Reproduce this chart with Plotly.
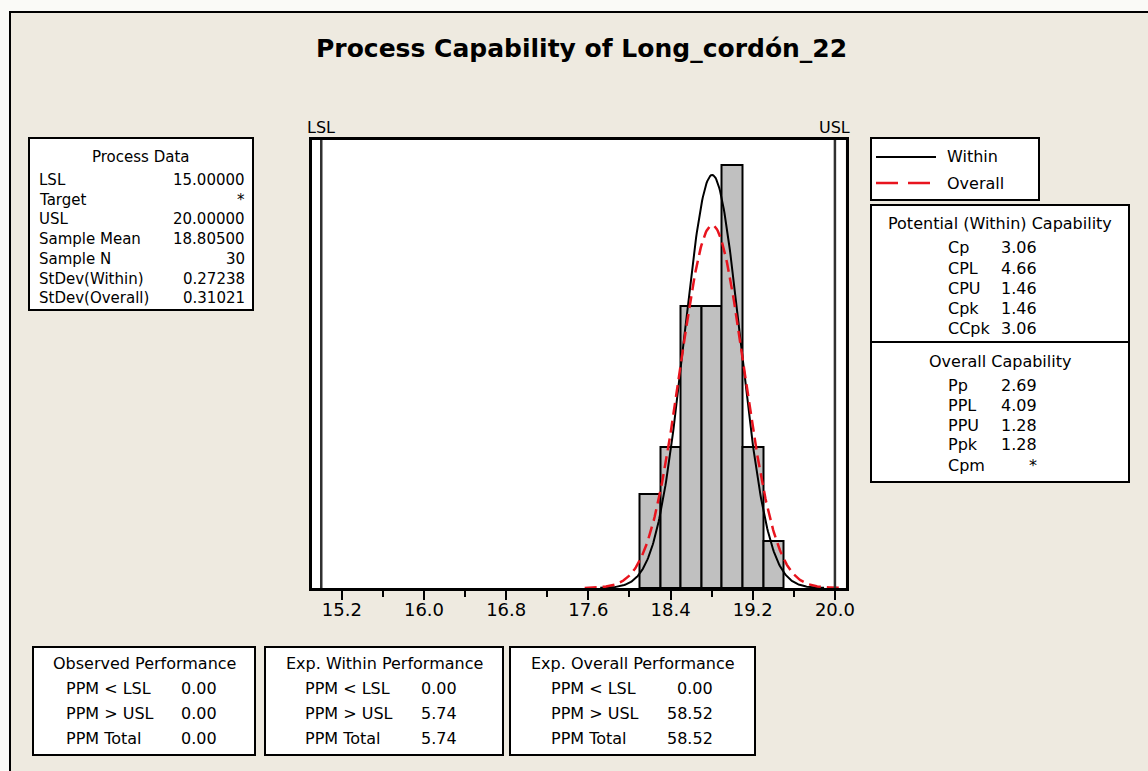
import numpy as np
import plotly.graph_objects as go

# ---------------- data ----------------
bin_centers = [18.2, 18.4, 18.6, 18.8, 19.0, 19.2, 19.4]
counts = [2, 3, 6, 6, 9, 3, 1]
bin_width = 0.2
LSL = 15.0
USL = 20.0
sample_mean = 18.805
sample_n = 30
sd_within = 0.27238
sd_overall = 0.31021

process_labels = ["LSL", "Target", "USL", "Sample Mean", "Sample N", "StDev(Within)", "StDev(Overall)"]
process_values = ["15.00000", "*", "20.00000", "18.80500", "30", "0.27238", "0.31021"]

within_labels = ["Cp", "CPL", "CPU", "Cpk", "CCpk"]
within_values = ["3.06", "4.66", "1.46", "1.46", "3.06"]
overall_labels = ["Pp", "PPL", "PPU", "Ppk", "Cpm"]
overall_values = ["2.69", "4.09", "1.28", "1.28", "*"]

perf_titles = ["Observed Performance", "Exp. Within Performance", "Exp. Overall Performance"]
perf_labels = ["PPM < LSL", "PPM > USL", "PPM Total"]
perf_values = [["0.00", "0.00", "0.00"], ["0.00", "5.74", "5.74"], ["0.00", "58.52", "58.52"]]

# ---------------- layout helpers ----------------
W, H = 1148, 771
BG = "#EEEAE0"
FONT = "DejaVu Sans"
RED = "#E8141E"


def px(x):
    return x / W


def py(y):
    return 1 - y / H


PLOT_L, PLOT_R, PLOT_T, PLOT_B = 311.5, 845.5, 140, 588
X_RANGE = [14.905, 20.103]
Y_RANGE = [0, 9.53]

fig = go.Figure()

# histogram bars
fig.add_trace(go.Bar(
    x=bin_centers, y=counts, width=bin_width,
    marker=dict(color="#C0C0C0", line=dict(color="black", width=2)),
    showlegend=False, hoverinfo="skip"))


def normal_curve(mu, sd):
    xs = np.linspace(mu - 4 * sd, mu + 4 * sd, 300)
    ys = sample_n * bin_width * np.exp(-0.5 * ((xs - mu) / sd) ** 2) / (sd * np.sqrt(2 * np.pi))
    return xs, ys


xw, yw = normal_curve(sample_mean, sd_within)
xo, yo = normal_curve(sample_mean, sd_overall)
fig.add_trace(go.Scatter(x=xw, y=yw, mode="lines", line=dict(color="black", width=2),
                         showlegend=False, hoverinfo="skip"))
fig.add_trace(go.Scatter(x=xo, y=yo, mode="lines",
                         line=dict(color=RED, width=2.5, dash="12px,6px"),
                         showlegend=False, hoverinfo="skip"))

shapes = []
annotations = []

# LSL / USL lines
for v, name in [(LSL, "LSL"), (USL, "USL")]:
    shapes.append(dict(type="line", xref="x", yref="paper", x0=v, x1=v,
                       y0=py(PLOT_B), y1=py(PLOT_T), line=dict(color="#303030", width=2.5)))
    annotations.append(dict(xref="x", yref="paper", x=v, y=py(128), text=name,
                            showarrow=False, xanchor="center", yanchor="middle",
                            font=dict(family=FONT, size=16, color="black")))

# outer window border (left & top)
shapes.append(dict(type="rect", xref="paper", yref="paper", x0=0, x1=1, y0=py(11), y1=1,
                   fillcolor="#FAFAF7", line=dict(width=0), layer="below"))
shapes.append(dict(type="rect", xref="paper", yref="paper", x0=0, x1=px(9), y0=0, y1=1,
                   fillcolor="#FAFAF7", line=dict(width=0), layer="below"))
shapes.append(dict(type="path", xref="paper", yref="paper",
                   path=f"M {px(10)},{py(H)} L {px(10)},{py(12)} L {px(W)},{py(12)}",
                   line=dict(color="black", width=2)))


def box(x0, y0, x1, y1):
    shapes.append(dict(type="rect", xref="paper", yref="paper",
                       x0=px(x0), x1=px(x1), y0=py(y1), y1=py(y0),
                       fillcolor="white", line=dict(color="black", width=2)))


def text(x, y, s, anchor="left", size=15, bold=False):
    annotations.append(dict(xref="paper", yref="paper", x=px(x), y=py(y),
                            text=f"<b>{s}</b>" if bold else s, showarrow=False,
                            xanchor=anchor, yanchor="middle",
                            font=dict(family=FONT, size=size, color="black")))


# title
text(581, 48, "Process Capability of Long_cordón_22", anchor="center", size=25, bold=True)

# process data box
box(29, 138, 253, 310)
text(141, 157, "Process Data", anchor="center")
for i, (lab, val) in enumerate(zip(process_labels, process_values)):
    y = 180 + 19.7 * i
    text(37, y, lab)
    text(247, y, val, anchor="right")

# legend box
box(871, 138, 1039, 200)
shapes.append(dict(type="line", xref="paper", yref="paper", x0=px(876), x1=px(936),
                   y0=py(157), y1=py(157), line=dict(color="black", width=2)))
shapes.append(dict(type="line", xref="paper", yref="paper", x0=px(876), x1=px(936),
                   y0=py(183), y1=py(183), line=dict(color=RED, width=2.5, dash="22px,10px")))
text(945, 157, "Within", size=16)
text(945, 183, "Overall", size=16)

# capability box
box(871, 205, 1129, 482)
shapes.append(dict(type="line", xref="paper", yref="paper", x0=px(871), x1=px(1129),
                   y0=py(342), y1=py(342), line=dict(color="black", width=2)))
text(1000, 223, "Potential (Within) Capability", anchor="center", size=16)
for i, (lab, val) in enumerate(zip(within_labels, within_values)):
    y = 248 + 20.2 * i
    text(946, y, lab, size=16)
    text(1039, y, val, anchor="right", size=16)
text(1000, 361, "Overall Capability", anchor="center", size=16)
for i, (lab, val) in enumerate(zip(overall_labels, overall_values)):
    y = 385 + 20 * i
    text(946, y, lab, size=16)
    text(1039, y, val, anchor="right", size=16)

# performance boxes
perf_boxes = [(33, 255, 64, 219), (265, 503, 303, 459), (510, 755, 549, 715)]
for (x0, x1, lx, vx), title, vals in zip(perf_boxes, perf_titles, perf_values):
    box(x0, 647, x1, 755)
    text((x0 + x1) / 2, 663, title, anchor="center", size=16)
    for i, (lab, val) in enumerate(zip(perf_labels, vals)):
        y = 688 + 25 * i
        text(lx, y, lab, size=16)
        text(vx, y, val, anchor="right", size=16)

fig.update_layout(
    width=W, height=H,
    margin=dict(l=0, r=0, t=0, b=0, autoexpand=False),
    paper_bgcolor=BG, plot_bgcolor="white",
    bargap=0, showlegend=False,
    shapes=shapes, annotations=annotations,
    xaxis=dict(domain=[px(PLOT_L), px(PLOT_R)], range=X_RANGE,
               showgrid=False, zeroline=False,
               showline=True, mirror=True, linecolor="black", linewidth=2.5,
               ticks="outside", ticklen=9, tickwidth=2, tickcolor="black",
               tick0=15.2, dtick=0.8, tickformat=".1f", ticklabelstandoff=-5,
               minor=dict(ticks="outside", ticklen=6, tickwidth=2, tickcolor="black",
                          tick0=15.6, dtick=0.8, showgrid=False),
               tickfont=dict(family=FONT, size=18, color="black")),
    yaxis=dict(domain=[py(PLOT_B), py(PLOT_T)], range=Y_RANGE,
               showgrid=False, zeroline=False, showticklabels=False, ticks="",
               showline=True, mirror=True, linecolor="black", linewidth=2.5),
)

fig.write_html("out.html")
